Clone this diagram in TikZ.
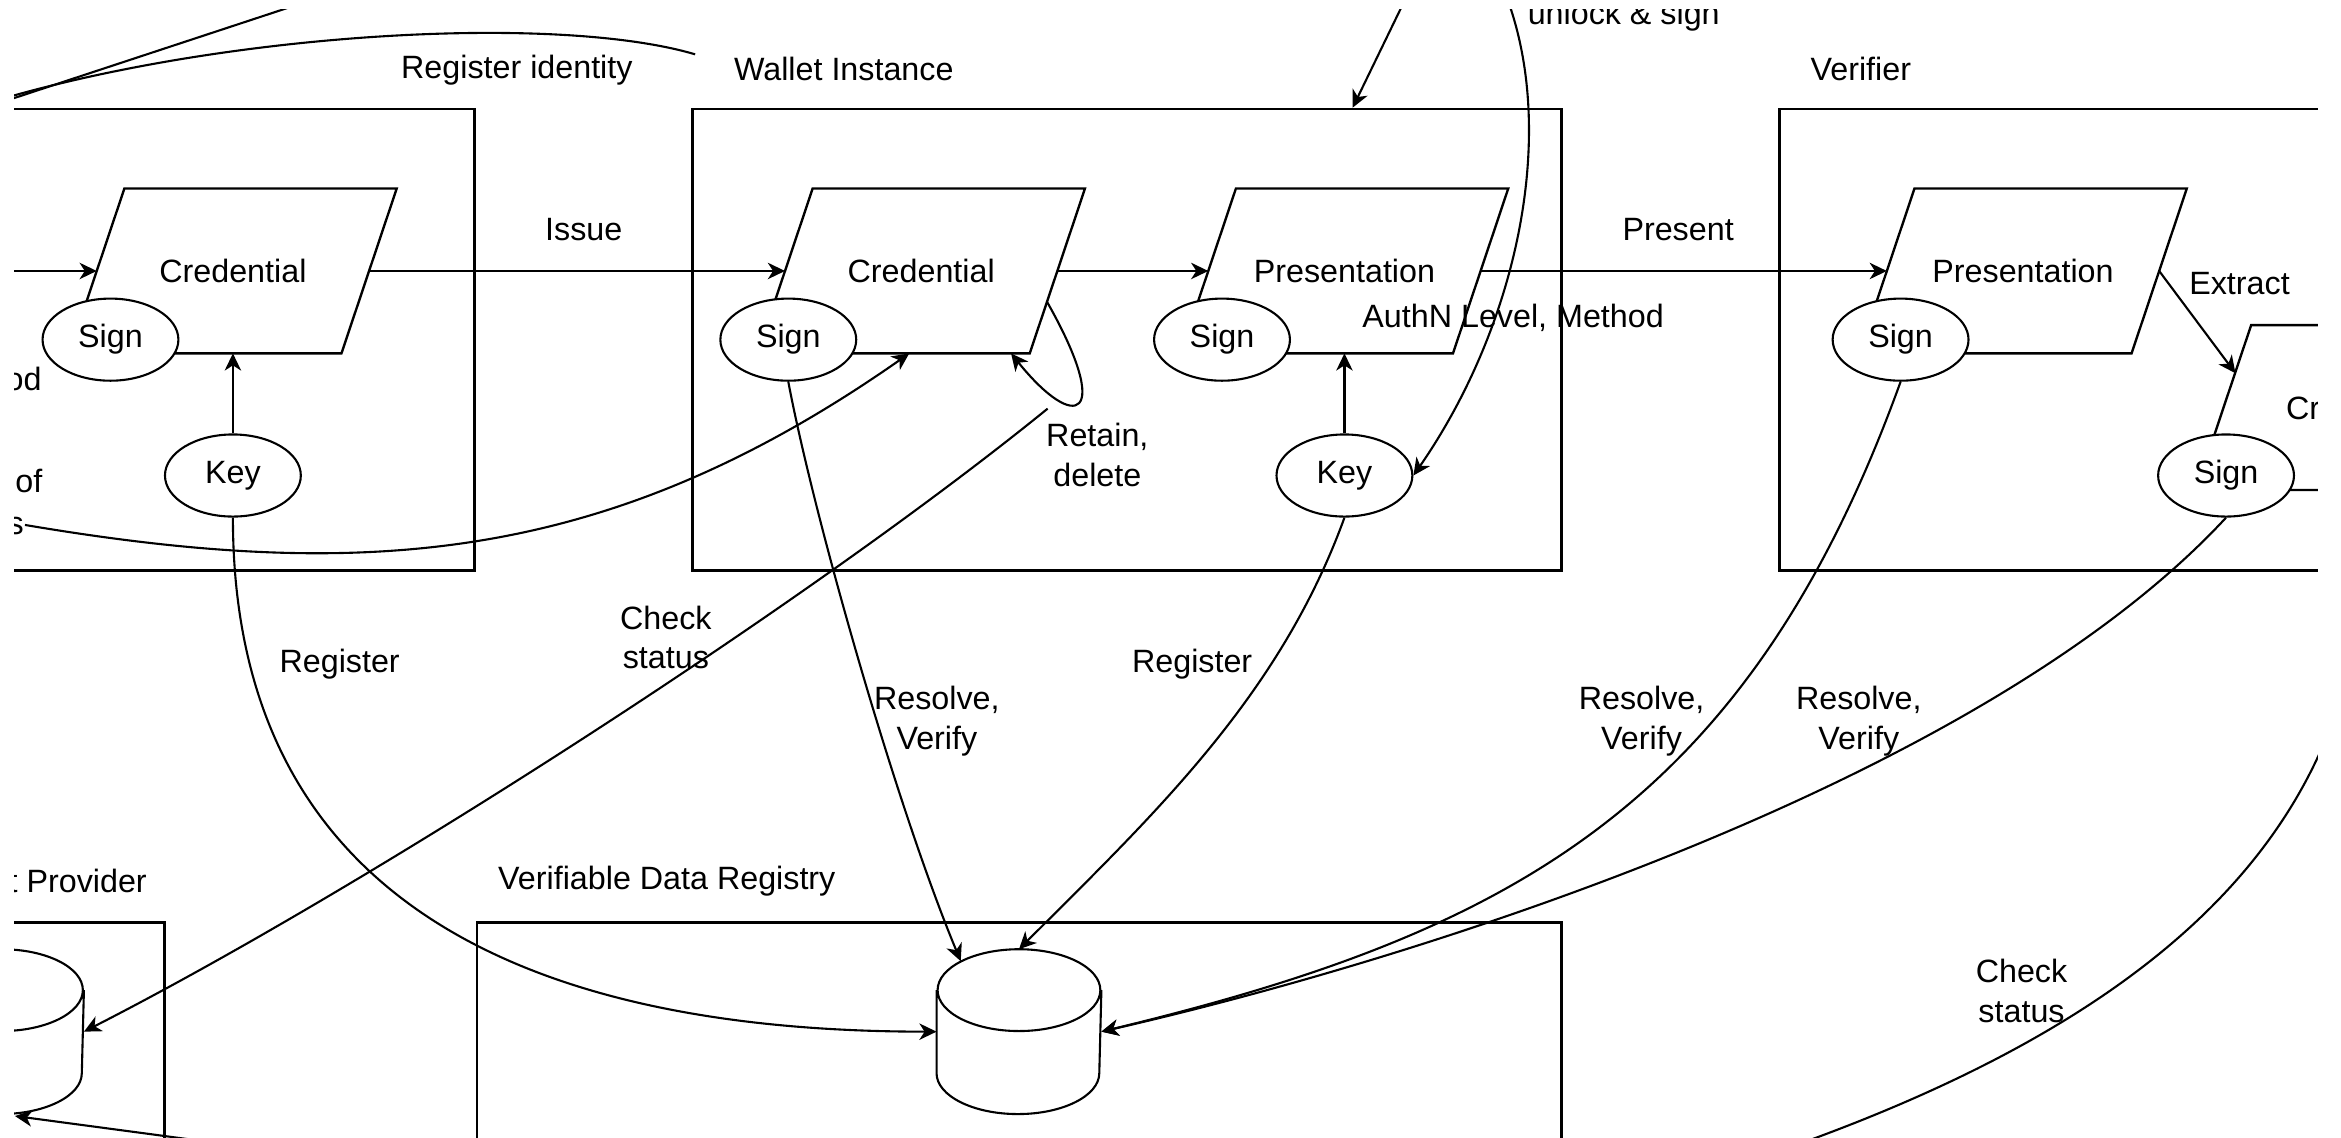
\documentclass[tikz,border=0pt]{standalone}
\usepackage{fontspec}
\setmainfont{Liberation Sans}
\usetikzlibrary{arrows.meta,calc,shapes.geometric}

\begin{document}
\begin{tikzpicture}[x=0.2mm,y=-0.2mm,
    font=\fontsize{12.3}{15.2}\selectfont,
    line width=0.8pt,
    frame/.style={draw, line width=1pt, inner sep=0pt, minimum height=61.8mm},
    doc/.style={inner sep=0pt, minimum width=36.2mm, minimum height=21.8mm},
    oval/.style={ellipse, draw, fill=white, inner sep=0pt, minimum width=18.2mm, minimum height=11mm},
    store/.style={inner sep=0pt, minimum width=21.8mm, minimum height=21.8mm},
    lbl/.style={align=center, inner sep=0pt},
    >={Stealth[length=2.3mm,width=2.2mm,inset=0.7mm]}]
  \useasboundingbox (0,0) rectangle (1568,762);
  \clip (9.4,6.7) rectangle (1552.5,762);

  \node[frame, minimum width=103.6mm] (issuer) at (59,227.5) {};
  \node[frame, minimum width=116.4mm] (wallet) at (755,227.5) {};
  \node[frame, minimum width=116.4mm] (verifier) at (1483,227.5) {};
  \node[frame, minimum width=82mm] (provider) at (-95,772.5) {};
  \node[frame, minimum width=145.3mm] (registry) at (682.75,772.5) {};

  \node[lbl, anchor=west] (lreg) at (268,47) {Register identity};
  \node[lbl, anchor=west] (lwal) at (491,46) {Wallet Instance};
  \node[lbl, anchor=west] (lver) at (1212,46) {Verifier};
  \node[lbl, anchor=east] (lprov) at (99,590) {t Provider};
  \node[lbl, anchor=west] (lvdr) at (333,590) {Verifiable Data Registry};

  \node[doc] (icred) at (156,181.5) {Credential};
  \node[doc] (wcred) at (617,181.5) {Credential};
  \node[doc] (wpres) at (900.5,181.5) {Presentation};
  \node[doc] (vpres) at (1355,181.5) {Presentation};
  \node[doc] (vcred) at (1580.5,273) {Credential};
  \foreach \n in {icred,wcred,wpres,vpres,vcred}
    \draw[line width=0.9pt] ([xshift=3.7mm]\n.north west) -- ([xshift=3.7mm]\n.north east)
      -- ([xshift=-3.7mm]\n.south east) -- ([xshift=-3.7mm]\n.south west) -- cycle;

  \node[oval] (isign) at (74,227.5) {Sign};
  \node[oval] (ikey) at (156,318.5) {Key};
  \node[oval] (wsign) at (528,227.5) {Sign};
  \node[oval] (psign) at (818.5,227.5) {Sign};
  \node[oval] (wkey) at (900.5,318.5) {Key};
  \node[oval] (vsign) at (1273,227.5) {Sign};
  \node[oval] (csign) at (1491,318.5) {Sign};

  \node[store] (vdr) at (682.5,691) {};
  \node[store] (wprov) at (1,691) {};
  \foreach \n in {vdr,wprov}
    \draw ([yshift=-5.48mm]\n.north) ellipse (10.9mm and 5.48mm)
      ([yshift=-5.48mm]\n.north west) -- ([yshift=5.48mm]\n.south west)
      arc (180:360:10.9mm and 5.48mm) -- ([yshift=-5.48mm]\n.north east);

  \coordinate (ua) at (-60,88.6);
  \coordinate (ub) at (220,-3.7);
  \coordinate (ra) at (-30,76);
  \coordinate (rb) at (465.6,36.4);
  \coordinate (ia) at (-20,181.5);
  \coordinate (pa) at (16.7,351.6);
  \coordinate (la) at (950.7,-20);
  \coordinate (sa) at (1008,-5);
  \coordinate (ca) at ($(wcred.south east)+(-6.5,37)$);
  \coordinate (ta) at (1570,460);
  \coordinate (tb) at (1180,775);
  \coordinate (ba) at (200,772.9);

  \draw (ua) -- (ub);
  \draw (ra) .. controls (130,22) and (370,8) .. (rb);
  \draw[->] (ia) -- (icred.west);
  \draw[->] (ikey) -- (icred.south);
  \draw[->] (icred.east) -- (wcred.west);
  \draw[->] (wcred.east) -- (wpres.west);
  \draw[->] ($(wcred.south east)+(-6.6,-34)$) .. controls +(44.1,78) and +(43.5,54) .. ($(wcred.south east)+(-31,0)$);
  \draw[->] (wkey) -- (wpres.south);
  \draw[->] (wpres.east) -- (vpres.west);
  \draw[->] (vpres.east) -- ($(vcred.west)+(8,-23)$);
  \draw[->] (la) -- ($(wallet.north)+(151,0)$);
  \draw[->] (sa) .. controls (1045,90) and (1015,220) .. (wkey.east);
  \draw[->] (ca) .. controls +(-160,130) and +(190,-97) .. (wprov.east);
  \draw[->] (pa) .. controls +(230,39) and +(-200,140) .. ($(wcred.south)+(-8,0)$);
  \draw[->] (ikey.south) .. controls +(0,254) and +(-278,0) .. (vdr.west);
  \draw[->] (wsign.south) .. controls +(17,90) and +(-43.5,-104.5) .. ($(vdr.north)+(-39,8)$);
  \draw[->] (wkey.south) .. controls +(-43.5,120) and +(90,-90) .. (vdr.north);
  \draw[->] (vsign.south) .. controls +(-103,285) and +(273,-66) .. (vdr.east);
  \draw[->] (csign.south) .. controls +(-161,174) and +(223,-51) .. (vdr.east);
  \draw (ta) .. controls (1530,600) and (1400,700) .. (tb);
  \draw[->] (ba) -- ($(wprov.south)+(9,1.3)$);

  \node[lbl] (liss) at (391,154) {Issue};
  \node[lbl] (lpre) at (1124,154) {Present};
  \node[lbl] (lext) at (1500,190) {Extract};
  \node[lbl] (lauth) at (1013.5,213) {AuthN Level, Method};
  \node[lbl] (lret) at (735,305) {Retain,\\delete};
  \node[lbl] (lchk) at (446,427) {Check\\status};
  \node[lbl] (lreg1) at (227.5,445) {Register};
  \node[lbl] (lres1) at (627.5,483) {Resolve,\\Verify};
  \node[lbl] (lreg2) at (798.5,445) {Register};
  \node[lbl] (lres2) at (1099.5,483) {Resolve,\\Verify};
  \node[lbl] (lres3) at (1245,483) {Resolve,\\Verify};
  \node[lbl] (lchk2) at (1354,663.5) {Check\\status};
  \node[lbl, anchor=base west] (lunl) at (1022.6,16.7) {unlock \& sign};
  \node[lbl, anchor=east] (lod) at (28.5,254) {od};
  \node[lbl, anchor=east] (lof) at (29,322) {of};
  \node[lbl, anchor=east] (ls) at (16.7,352) {s};
\end{tikzpicture}
\end{document}
